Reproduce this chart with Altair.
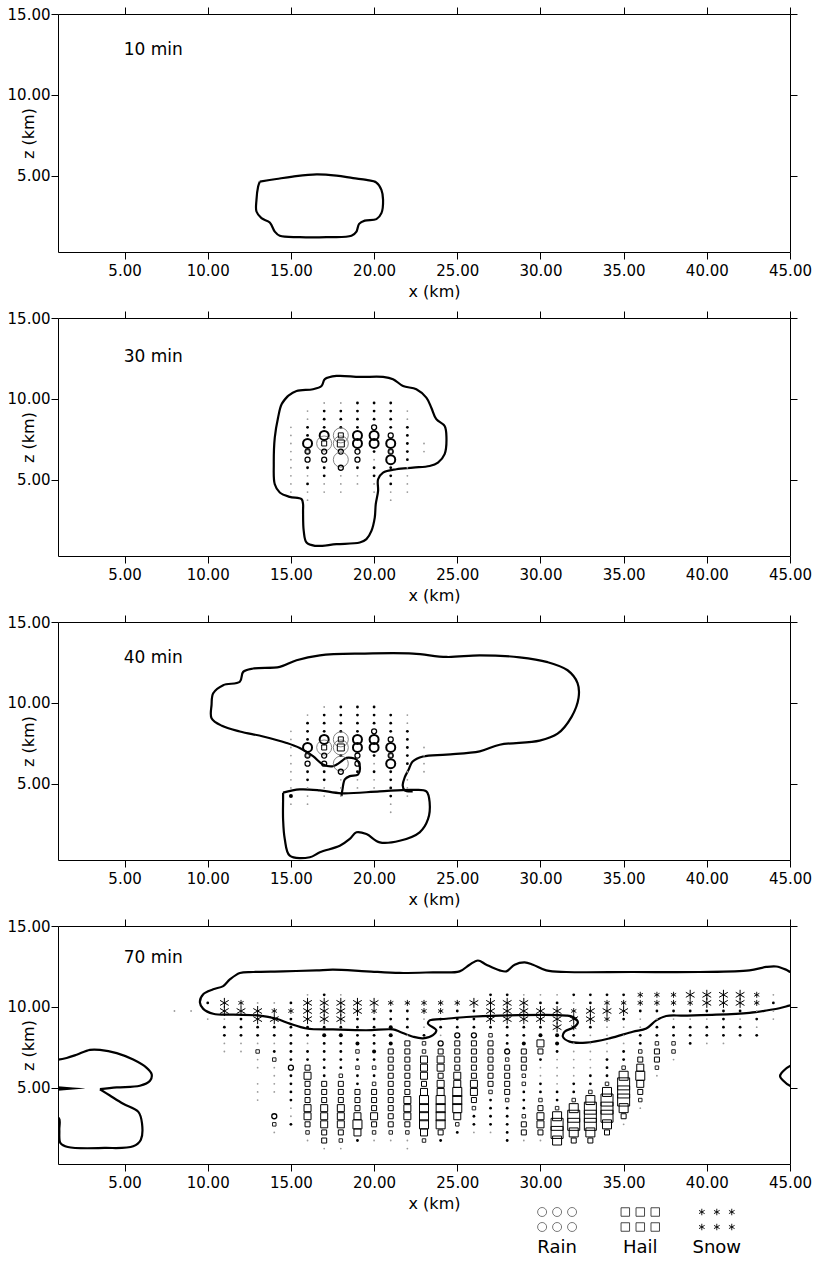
import altair as alt
import pandas as pd

# ---------------------------------------------------------------- axes
X_DOMAIN = [1, 45]
Z_DOMAIN = [0.3, 15]
X_TICKS = [5, 10, 15, 20, 25, 30, 35, 40, 45]
Z_TICKS = [5, 10, 15]
PANEL_W, PANEL_H = 732, 238
FONT = "DejaVu Sans"

# ---------------------------------------------------------------- panel labels
TIMES = ["10 min", "30 min", "40 min", "70 min"]
TIME_LABEL_X = [4.95, 4.95, 4.95, 4.95]
TIME_LABEL_Z = [12.8, 12.6, 12.75, 13.0]

# ---------------------------------------------------------------- cloud outlines (x km, z km)
CLOUD_10 = [[
    (13.13, 4.65), (14.13, 4.81), (15.11, 4.96), (16.54, 5.10), (17.74, 5.02),
    (18.74, 4.86), (19.54, 4.75), (20.14, 4.59), (20.44, 4.14), (20.54, 3.52),
    (20.44, 2.70), (20.14, 2.33), (19.44, 2.24), (19.10, 2.04), (18.94, 1.56),
    (18.64, 1.30), (17.14, 1.22), (15.53, 1.22), (14.33, 1.30), (14.03, 1.56),
    (13.73, 2.12), (13.23, 2.39), (12.93, 2.80), (12.93, 3.52), (13.03, 4.34),
    (13.13, 4.65),
]]

CLOUD_30 = [[
    (14.83, 10.19), (15.34, 10.49), (16.33, 10.60), (16.84, 10.80), (17.04, 11.22),
    (17.74, 11.42), (19.14, 11.36), (20.54, 11.36), (21.14, 11.22), (21.74, 10.80),
    (22.54, 10.60), (23.14, 10.08), (23.44, 9.46), (23.74, 8.75), (24.24, 8.33),
    (24.35, 7.61), (24.24, 6.59), (23.84, 6.07), (23.34, 5.86), (22.34, 5.76),
    (21.34, 5.66), (20.54, 5.45), (20.24, 5.04), (20.24, 4.32), (20.10, 3.50),
    (20.04, 2.67), (19.84, 1.85), (19.54, 1.34), (19.14, 1.13), (17.74, 1.03),
    (16.44, 0.93), (15.94, 1.13), (15.77, 1.85), (15.73, 3.09), (15.73, 3.50),
    (15.64, 3.81), (14.93, 3.95), (14.33, 4.22), (14.03, 4.73), (13.97, 5.97),
    (14.03, 7.61), (14.23, 8.85), (14.44, 9.67), (14.83, 10.19),
]]

CLOUD_40 = [
    [   # anvil with the two stems
        (18.04, 4.25), (18.10, 4.66), (18.24, 5.28), (18.54, 5.48), (19.04, 5.58),
        (19.14, 6.09), (18.94, 6.50), (18.34, 6.61), (18.04, 6.40), (17.53, 6.09),
        (16.93, 6.20), (16.33, 6.71), (15.53, 7.22), (14.74, 7.53), (13.33, 7.93),
        (11.93, 8.24), (10.85, 8.59), (10.23, 9.06), (10.23, 9.88), (10.33, 10.60),
        (10.93, 11.10), (11.93, 11.31), (12.13, 11.92), (12.73, 12.13), (14.33, 12.23),
        (15.34, 12.64), (16.74, 12.94), (19.34, 13.05), (22.34, 13.05), (24.35, 12.84),
        (26.35, 12.94), (28.75, 12.82), (30.43, 12.52), (31.63, 12.02), (32.23, 11.23),
        (32.29, 10.31), (31.87, 9.14), (31.03, 8.10), (29.95, 7.67), (27.55, 7.42),
        (26.35, 7.01), (24.35, 6.81), (22.94, 6.69), (22.32, 6.38), (22.08, 5.89),
        (21.84, 5.40), (21.72, 4.91), (21.84, 4.60), (22.32, 4.54),
    ],
    [   # low-level cell
        (14.53, 4.46), (15.53, 4.66), (16.74, 4.60), (18.04, 4.42), (20.34, 4.54),
        (22.32, 4.63), (23.14, 4.54), (23.34, 3.85), (23.24, 2.82), (22.74, 2.01),
        (21.54, 1.49), (20.34, 1.39), (19.54, 1.90), (18.94, 2.01), (18.54, 1.60),
        (17.94, 1.18), (16.74, 0.78), (16.14, 0.47), (14.93, 0.57), (14.63, 1.60),
        (14.53, 2.82), (14.53, 4.05), (14.53, 4.46),
    ],
]

CLOUD_70 = [
    [   # anvil
        (45.56, 12.12), (45.07, 12.14), (44.77, 12.30), (44.17, 12.50), (43.57, 12.47),
        (42.56, 12.26), (39.56, 12.16), (35.55, 12.16), (31.55, 12.16), (30.35, 12.26),
        (29.55, 12.61), (29.05, 12.75), (28.45, 12.61), (27.95, 12.20), (27.55, 12.26),
        (26.75, 12.61), (26.24, 12.87), (25.74, 12.61), (25.14, 12.20), (23.54, 12.14),
        (21.54, 12.10), (19.54, 12.20), (17.53, 12.30), (16.54, 12.26), (14.53, 12.20),
        (12.73, 12.16), (11.93, 12.10), (11.33, 11.70), (10.93, 11.29), (10.33, 11.09),
        (9.73, 10.79), (9.53, 10.28), (9.73, 9.88), (10.33, 9.58), (11.53, 9.52),
        (13.13, 9.47), (14.13, 9.27), (14.93, 8.97), (15.94, 8.67), (17.53, 8.61),
        (19.54, 8.56), (21.14, 8.61), (21.54, 8.47), (22.34, 8.16), (22.94, 8.06),
        (23.54, 8.26), (23.74, 8.56), (23.24, 8.97), (23.34, 9.17), (24.35, 9.27),
        (25.55, 9.38), (27.55, 9.47), (31.55, 9.47), (31.95, 9.38), (32.25, 9.07),
        (32.05, 8.77), (31.45, 8.47), (31.35, 8.16), (31.75, 7.86), (32.75, 7.80),
        (34.15, 8.06), (35.55, 8.47), (36.36, 8.67), (36.96, 9.17), (37.56, 9.44),
        (38.56, 9.47), (40.56, 9.52), (42.56, 9.64), (43.57, 9.78), (44.36, 9.92),
        (44.96, 10.08), (45.56, 10.24),
    ],
    [   # old cell, upper part
        (0.52, 6.73), (1.02, 6.75), (1.52, 6.85), (2.12, 7.05), (2.92, 7.35),
        (3.52, 7.35), (4.53, 7.15), (5.52, 6.75), (6.33, 6.24), (6.63, 5.84),
        (6.53, 5.44), (5.92, 5.13), (4.53, 5.03), (3.52, 4.92),
    ],
    [   # old cell, lower part
        (3.52, 4.92), (4.12, 4.53), (4.92, 4.02), (5.83, 3.52), (6.05, 2.81),
        (5.98, 1.80), (5.52, 1.39), (3.79, 1.29), (1.59, 1.35), (1.15, 1.59),
        (1.08, 2.41), (1.06, 3.11), (0.52, 3.33),
    ],
    [   # edge of a new cell entering from the right
        (45.5, 6.45), (45.0, 6.35), (44.6, 6.04), (44.4, 5.74), (44.6, 5.44),
        (45.0, 5.13), (45.5, 5.00),
    ],
]
CLOUDS = [CLOUD_10, CLOUD_30, CLOUD_40, CLOUD_70]

# thin sliver of the old cell pinned to the left boundary (70 min)
NOTCH_X = [1.0, 1.9, 2.6]
NOTCH_Z = [4.97, 4.97, 4.97]

# ---------------------------------------------------------------- hydrometeor grids
# one string per column x (km); characters step downward by 0.5 km from GRID_TOP
GRID_STEP = 0.5
GRID_TOP = [9.75, 9.75, 9.75, 10.75]

GRID_10 = {}

GRID_30 = {
    15: "   .........",
    16: " ..::Oqo:.:..",
    17: ".:::OQoo::..",
    18: ".:::QRoGo...",
    19: "::::OOoo:..",
    20: ":::oOO:.::..",
    21: "::::oOqO:::..",
    22: " ..:::::....",
    23: "     ..",
}

GRID_40 = {
    15: "   ........;.",
    16: " .:::Oqo::...",
    17: ".:::OQoo::..",
    18: "::::QR:Go...",
    19: "::::OOoo:..",
    20: ":::oOO:.:..",
    21: " :::oOqO::::..",
    22: " ..:::::....",
    23: "     ....",
}

GRID_70 = {
    8:  "  .",
    9:  "  .",
    10: " : .",
    11: " XX.::..",
    12: " *X:::..",
    13: " .XX::.h.. ...",
    14: " .*X::.:h....  oh.",
    15: " :*::::::o::::..:",
    16: ".XXX::.::sSsssSSsh.",
    17: ":XXX:;:::::sssSSSss.",
    18: ".XXX:;::::hsssSSSsh.",
    19: " XX:::;h:h::sssSBS:",
    20: " X*::::;:h:hsssSsh.",
    21: " *::;;;ssssssssssh.",
    22: " *:::.sssssssSSSsh..",
    23: " **..:hhSSSsSBBBBSh",
    24: " **::.osSSsSSBBBBs:",
    25: " *:::ossssSSBBBSh:",
    26: " X:::osssssSSsh::.",
    27: ":XXX:hssssssh::::.",
    28: ":XXX:::ohssssh:::::",
    29: ".XXX::;ssshh:::hss.",
    30: ".:XX:;Ss:..::hsSSs.",
    31: ".:XXX;;:....::hBWWB",
    32: ":.*X*:.....::hBWWBs",
    33: "::XX:.....::hBWWWBs",
    34: ":*X*....:::hBWWWBs",
    35: ":*X:...::hBWWWBs.",
    36: "**:..::hsSBSsh.",
    37: "**:.::hssh.",
    38: "**:.::hh.",
    39: "X*:.:::",
    40: "XX:.::.",
    41: "XX::::.",
    42: "XX:.::",
    43: "**.:.:",
    44: ".:..",
}
GRIDS = [GRID_10, GRID_30, GRID_40, GRID_70]

# symbol code -> (species, size class)
CODES = {
    ".": [("trace", 1)], ":": [("trace", 2)], ";": [("trace", 3)],
    "o": [("rain", 1)], "O": [("rain", 2)], "G": [("rain", 3)],
    "q": [("rain", 1), ("hail", 1)], "Q": [("rain", 3), ("hail", 2)],
    "R": [("rain", 3), ("hail", 3)],
    "h": [("hail", 1)], "s": [("hail", 2)], "S": [("hail", 3)],
    "B": [("hail", 4)], "W": [("hail", 5)],
    "*": [("snow", 1)], "X": [("snow", 2)],
}

# (species, class) -> (symbol width px, stroke width, colour)
STYLE = {
    ("trace", 1): (1.8, 0, "#9a9a9a"), ("trace", 2): (2.8, 0, "black"), ("trace", 3): (4.0, 0, "black"),
    ("rain", 1): (5, 1.3, "black"), ("rain", 2): (9, 2.0, "black"), ("rain", 3): (15, 0.8, "#666666"),
    ("hail", 1): (3.5, 1.0, "#222222"), ("hail", 2): (5, 1.0, "black"), ("hail", 3): (7, 1.0, "black"),
    ("hail", 4): (9, 1.0, "black"), ("hail", 5): (12, 1.0, "black"),
    ("snow", 1): (6, 0.9, "black"), ("snow", 2): (10, 1.0, "black"),
}

ASTERISK = "M0,-1L0,1M-0.87,-0.5L0.87,0.5M-0.87,0.5L0.87,-0.5"
SHAPES = {"trace": ("circle", True), "rain": ("circle", False),
          "hail": ("square", False), "snow": (ASTERISK, False)}

# ---------------------------------------------------------------- legend
LEGEND_NAMES = ["Rain", "Hail", "Snow"]
LEGEND_SPECIES = ["rain", "hail", "snow"]
LEGEND_CENTER_X = [31.0, 36.0, 40.6]
LEGEND_H = 46

XS = alt.Scale(domain=X_DOMAIN, nice=False, zero=False)
ZS = alt.Scale(domain=Z_DOMAIN, nice=False, zero=False)


def grid_frame(grid, top):
    rows = []
    for x, col in grid.items():
        for k, ch in enumerate(col):
            for species, cls in CODES.get(ch, []):
                w, sw, c = STYLE[(species, cls)]
                rows.append({"x": x, "z": top - GRID_STEP * k, "species": species,
                             "area": w * w, "sw": sw, "col": c})
    return pd.DataFrame(rows)


def cloud_layer(paths):
    rows = [{"path": p, "i": i, "x": x, "z": z}
            for p, path in enumerate(paths) for i, (x, z) in enumerate(path)]
    return alt.Chart(pd.DataFrame(rows)).mark_line(
        color="black", strokeWidth=2.2, interpolate="catmull-rom", clip=True
    ).encode(
        x=alt.X("x:Q", scale=XS, axis=alt.Axis(
            orient="bottom", values=X_TICKS, format=".2f", title="x (km)",
            titleX=376, labelPadding=4, titlePadding=5)),
        y=alt.Y("z:Q", scale=ZS, axis=alt.Axis(
            orient="left", values=Z_TICKS, format=".2f", title="z (km)",
            titleX=-30, titleY=PANEL_H / 2, titleAngle=270, titleAlign="center",
            titleBaseline="middle", labelPadding=1)),
        detail="path:N",
        order="i:Q",
    )


def frame_layer():
    d = pd.DataFrame({"x": [X_DOMAIN[0]], "z": [Z_DOMAIN[0]]})
    return alt.Chart(d).mark_point(opacity=0).encode(
        x=alt.X("x:Q", scale=XS, axis=alt.Axis(orient="top", values=X_TICKS,
                                               labels=False, title=None)),
        y=alt.Y("z:Q", scale=ZS, axis=alt.Axis(orient="right", values=Z_TICKS,
                                               labels=False, title=None)),
    )


def particle_layers(df):
    layers = []
    if df.empty:
        return layers
    for species, (shape, filled) in SHAPES.items():
        sub = df[df["species"] == species]
        if sub.empty:
            continue
        layers.append(alt.Chart(sub).mark_point(
            shape=shape, filled=filled, opacity=1, clip=True
        ).encode(
            x=alt.X("x:Q", scale=XS, axis=None),
            y=alt.Y("z:Q", scale=ZS, axis=None),
            size=alt.Size("area:Q", scale=None),
            strokeWidth=alt.StrokeWidth("sw:Q", scale=None),
            color=alt.Color("col:N", scale=None),
        ))
    return layers


def panel(i):
    layers = [cloud_layer(CLOUDS[i]), frame_layer()]
    layers += particle_layers(grid_frame(GRIDS[i], GRID_TOP[i]))
    if i == 3:
        notch = pd.DataFrame({"x": NOTCH_X, "z": NOTCH_Z, "w": [4.5, 2.0, 0.4]})
        layers.append(alt.Chart(notch).mark_trail(color="black", clip=True).encode(
            x=alt.X("x:Q", scale=XS, axis=None),
            y=alt.Y("z:Q", scale=ZS, axis=None),
            size=alt.Size("w:Q", scale=None),
        ))
    lab = pd.DataFrame({"x": [TIME_LABEL_X[i]], "z": [TIME_LABEL_Z[i]], "t": [TIMES[i]]})
    layers.append(alt.Chart(lab).mark_text(
        align="left", baseline="middle", font=FONT, fontSize=17, color="black"
    ).encode(
        x=alt.X("x:Q", scale=XS, axis=None),
        y=alt.Y("z:Q", scale=ZS, axis=None),
        text="t:N",
    ))
    return alt.layer(*layers).resolve_axis(x="independent", y="independent").properties(
        width=PANEL_W, height=PANEL_H)


def legend_chart():
    # two rows of three sample symbols above each species name
    sym = []
    for name, species, cx in zip(LEGEND_NAMES, LEGEND_SPECIES, LEGEND_CENTER_X):
        for col in (-1, 0, 1):
            for row in (0, 1):
                sym.append({"x": cx + 0.9 * col, "y": LEGEND_H - 5 - 15 * row,
                            "species": species})
    sym = pd.DataFrame(sym)
    txt = pd.DataFrame({"x": LEGEND_CENTER_X, "y": [5, 5, 5], "t": LEGEND_NAMES})
    ys = alt.Scale(domain=[0, LEGEND_H], nice=False, zero=False)
    legend_style = {"rain": (9, 0.8, "#555555"), "hail": (8.5, 0.9, "#333333"),
                    "snow": (6.5, 0.9, "black")}
    layers = []
    for species in LEGEND_SPECIES:
        shape, filled = SHAPES[species]
        w, sw, c = legend_style[species]
        layers.append(alt.Chart(sym[sym["species"] == species]).mark_point(
            shape=shape, filled=False, size=w * w, strokeWidth=sw, color=c, opacity=1
        ).encode(
            x=alt.X("x:Q", scale=XS, axis=None),
            y=alt.Y("y:Q", scale=ys, axis=None),
        ))
    layers.append(alt.Chart(txt).mark_text(
        font=FONT, fontSize=18, color="black", baseline="middle"
    ).encode(
        x=alt.X("x:Q", scale=XS, axis=None),
        y=alt.Y("y:Q", scale=ys, axis=None),
        text="t:N",
    ))
    return alt.layer(*layers).properties(width=PANEL_W, height=LEGEND_H)


# panels are stacked by their plot areas ("flush" bounds), so the spacing is
# the gap between one frame and the next
chart = alt.vconcat(
    panel(0), panel(1), panel(2),
    alt.vconcat(panel(3), legend_chart(), spacing=43, bounds="flush"),
    spacing=66, bounds="flush",
).properties(
    padding={"left": 7, "top": 6, "right": 2, "bottom": 0}
).configure_view(
    strokeWidth=0
).configure_axis(
    labelFont=FONT, labelFontSize=15, titleFont=FONT, titleFontSize=16,
    titleFontWeight="normal", labelColor="black", titleColor="black",
    domainColor="black", tickColor="black", domainWidth=1, tickWidth=1,
    tickSize=7, grid=False, labelFlush=False,
)

chart.save("out.html", embed_options={"renderer": "svg", "actions": False})
